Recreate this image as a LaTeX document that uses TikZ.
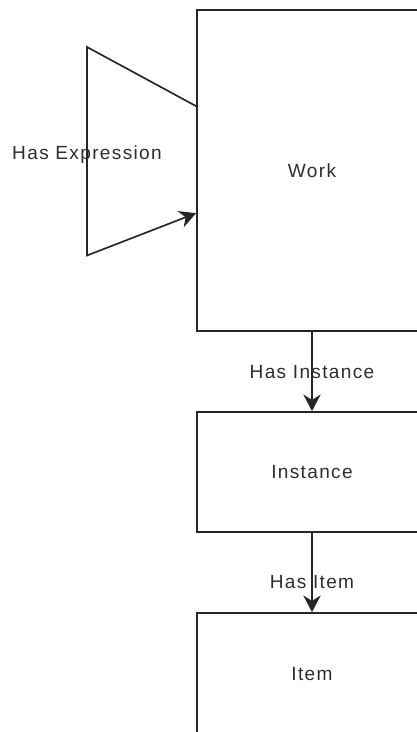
\documentclass[tikz,border=0pt]{standalone}
\usepackage{fontspec}
\setmainfont{Liberation Sans}[LetterSpace=7]
\usetikzlibrary{arrows.meta,calc}
\definecolor{ink}{HTML}{262626}
\definecolor{txt}{HTML}{2E2E2E}
\begin{document}
\begin{tikzpicture}[x=0.75pt,y=-0.75pt,
  entity/.style={draw=ink, line width=1.25pt, fill=none, text=txt,
    minimum width=172.5pt, font=\fontsize{14.3pt}{16pt}\selectfont},
  flow/.style={draw=ink, line width=1.25pt,
    -{Stealth[length=12.5pt,width=13pt,inset=4pt]}},
  elabel/.style={anchor=base, inner sep=0pt, text=txt,
    font=\fontsize{14.3pt}{16pt}\selectfont}]
\useasboundingbox (0,0) rectangle (417,732);
\clip (0,0) rectangle (417,732);

% class boxes (they run past the right and bottom edges)
\node[entity, minimum height=240.75pt] (work) at (312,170.5) {Work};
\node[entity, minimum height=90pt] (instance) at (312,472) {Instance};
\node[entity, minimum height=91.5pt] (item) at (312,674) {Item};

% self relation on Work
\coordinate (loopA) at (87,47);
\coordinate (loopB) at (87,255.5);
\draw[flow] ($(work.north west)+(0,97)$) -- (loopA)
  -- node[elabel, pos=0.538] {Has Expression} (loopB)
  -- ($(work.north west)+(0,204)$);

% chain of relations
\draw[flow] (work.south) -- node[elabel, pos=0.593] {Has Instance} (instance.north);
\draw[flow] (instance.south) -- node[elabel, pos=0.704] {Has Item} (item.north);
\end{tikzpicture}
\end{document}
